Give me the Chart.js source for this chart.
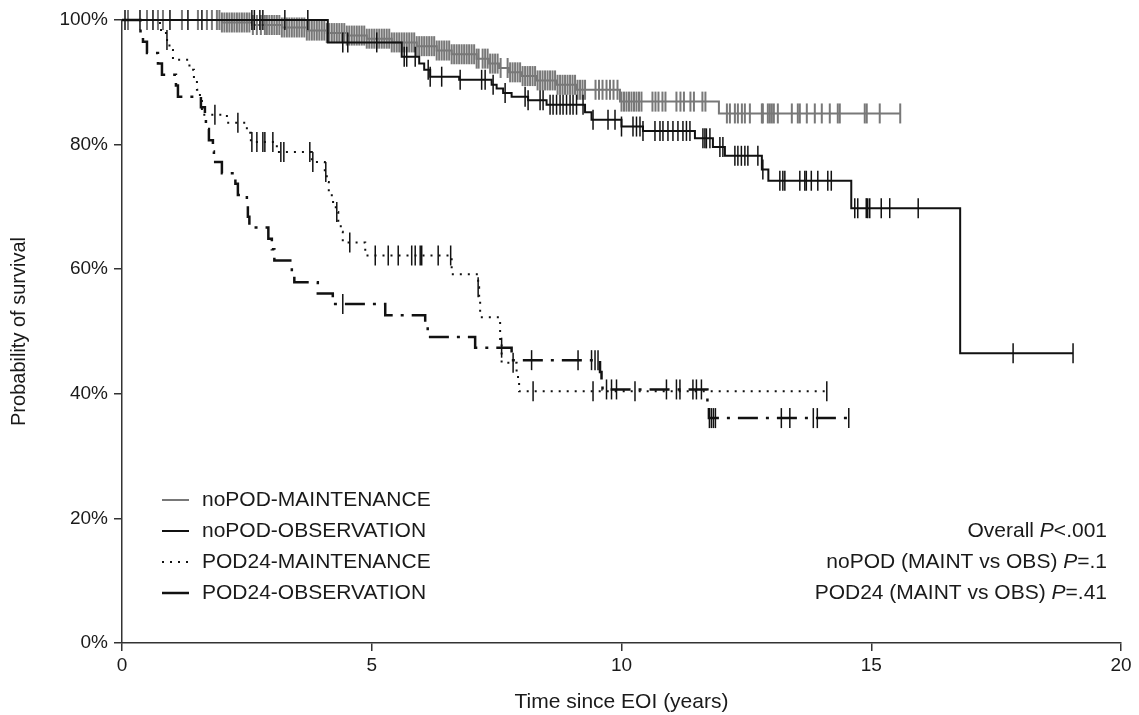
<!DOCTYPE html>
<html>
<head>
<meta charset="utf-8">
<script src="https://cdn.jsdelivr.net/npm/chart.js@4.4.0/dist/chart.umd.min.js"></script>
<style>
  html, body { margin: 0; padding: 0; background: #fff; }
</style>
</head>
<body>
<canvas id="km" width="1139" height="715"></canvas>
<script>
// Kaplan-Meier curves: event times (years) and survival (%) after each step
const noPodMaintT = [0, 2.0, 2.6, 3.2, 3.7, 4.1, 4.5, 4.9, 5.4, 5.9, 6.3, 6.6, 7.1, 7.35, 7.55, 7.75, 8.0, 8.3, 8.7, 9.1, 9.97, 11.95, 15.58];
const noPodMaintS = [100, 99.6, 99.2, 98.8, 98.3, 97.9, 97.5, 97.0, 96.4, 95.8, 95.1, 94.5, 93.8, 93.0, 92.3, 91.6, 91.0, 90.3, 89.6, 88.8, 86.9, 85.0, 85.0];

const noPodObsT = [0, 4.12, 5.6, 5.95, 6.05, 6.17, 6.75, 7.40, 7.50, 7.63, 7.80, 8.13, 8.50, 9.27, 9.40, 10.0, 10.43, 11.47, 11.83, 12.07, 12.81, 12.94, 14.6, 16.78, 19.04];
const noPodObsS = [100, 96.4, 94.1, 93.0, 92.0, 90.9, 90.4, 89.6, 89.0, 88.3, 87.7, 87.1, 86.4, 85.2, 84.0, 82.9, 82.2, 81.0, 79.6, 78.2, 76.0, 74.2, 69.8, 46.5, 46.5];

const pod24MaintT = [0, 0.76, 0.88, 0.95, 1.02, 1.35, 1.44, 1.5, 1.56, 1.6, 2.1, 2.5, 2.58, 3.1, 3.8, 4.06, 4.1, 4.14, 4.2, 4.28, 4.33, 4.38, 4.42, 4.87, 6.6, 7.13, 7.15, 7.17, 7.57, 7.6, 7.9, 7.95, 14.11];
const pod24MaintS = [100, 98.4, 96.8, 95.2, 93.6, 92.0, 90.4, 88.8, 87.2, 84.8, 83.5, 81.9, 80.4, 78.8, 77.2, 75.6, 74.0, 72.4, 70.8, 69.2, 67.6, 66.0, 64.3, 62.2, 59.2, 57.1, 55.0, 52.3, 48.5, 45.0, 42.7, 40.4, 40.4];

const pod24ObsT = [0, 0.37, 0.42, 0.5, 0.72, 0.8, 1.08, 1.12, 1.58, 1.66, 1.68, 1.74, 1.82, 1.84, 2.0, 2.27, 2.32, 2.5, 2.52, 2.55, 2.93, 3.0, 3.05, 3.4, 3.45, 3.92, 4.22, 5.27, 6.07, 6.12, 7.07, 7.8, 9.57, 9.6, 9.62, 11.72, 11.75, 14.55];
const pod24ObsS = [100, 98.2, 96.5, 94.7, 93.0, 91.2, 89.5, 87.7, 86.0, 84.2, 82.5, 80.7, 78.9, 77.2, 75.4, 73.7, 71.9, 70.2, 68.4, 66.7, 64.9, 63.2, 61.4, 59.6, 57.9, 56.1, 54.4, 52.6, 50.9, 49.1, 47.4, 45.4, 43.5, 41.7, 40.7, 38.4, 36.1, 36.1];

// censoring times (tick marks)
const noPodMaintCens = [
  0.12, 0.5, 0.72, 0.82, 1.2, 1.52, 1.7, 1.8,
  1.9, 1.95, 2.0, 2.05, 2.1, 2.15, 2.2, 2.25, 2.3, 2.35, 2.4, 2.45, 2.5, 2.55,
  2.62, 2.7, 2.78, 2.86, 2.9, 2.95, 3.0, 3.05, 3.1, 3.15, 3.2, 3.25, 3.3, 3.35,
  3.4, 3.45, 3.5, 3.55, 3.6, 3.65, 3.7, 3.75, 3.8, 3.85, 3.9, 3.95, 4.0, 4.05,
  4.1, 4.15, 4.2, 4.25, 4.3, 4.35, 4.4, 4.45, 4.5, 4.55, 4.6, 4.65, 4.7, 4.75,
  4.8, 4.85, 4.9, 4.95, 5.0, 5.05, 5.1, 5.15, 5.2, 5.25, 5.3, 5.35, 5.4, 5.45,
  5.5, 5.55, 5.6, 5.65, 5.7, 5.75, 5.8, 5.85, 5.9, 5.95, 6.0, 6.05, 6.1, 6.15,
  6.2, 6.25, 6.3, 6.35, 6.4, 6.45, 6.5, 6.55, 6.6, 6.65, 6.7, 6.75, 6.8, 6.85,
  6.9, 6.95, 7.0, 7.05, 7.1, 7.14, 7.22, 7.27, 7.32, 7.37, 7.42, 7.47, 7.52, 7.58,
  7.72, 7.77, 7.82, 7.87, 7.92, 7.97, 8.02, 8.07, 8.12, 8.17, 8.22, 8.27, 8.32,
  8.37, 8.42, 8.47, 8.52, 8.57, 8.62, 8.67, 8.72, 8.77, 8.82, 8.87, 8.92, 8.97,
  9.02, 9.07, 9.12, 9.17, 9.22, 9.27,
  9.48, 9.55, 9.62, 9.7, 9.77, 9.84, 9.92,
  10.0, 10.05, 10.1, 10.15, 10.2, 10.25, 10.3, 10.35, 10.4,
  10.62, 10.68, 10.74, 10.82, 10.88, 11.1, 11.18, 11.25, 11.38, 11.45, 11.62, 11.68,
  12.11, 12.17, 12.27, 12.33, 12.41, 12.47, 12.57, 12.81, 12.83, 12.93, 12.97, 13.01,
  13.05, 13.13, 13.41, 13.53, 13.57, 13.71, 13.87, 14.01, 14.17, 14.33, 14.37, 14.87,
  14.91, 15.17, 15.58
];
const noPodObsCens = [
  0.06, 0.36, 0.62, 0.96, 1.32, 1.6, 2.6, 2.65, 2.76, 2.82, 3.26, 3.72, 4.42, 4.52, 5.1,
  5.65, 5.7, 5.87, 6.13, 6.17, 6.4, 6.77, 7.2, 7.27, 7.43, 7.67, 8.07, 8.13, 8.37, 8.43,
  8.57, 8.63, 8.7, 8.77, 8.83, 8.9, 8.97, 9.03, 9.1, 9.23, 9.43, 9.73, 9.87, 10.0, 10.23,
  10.3, 10.37, 10.43, 10.67, 10.77, 10.83, 10.93, 11.03, 11.13, 11.23, 11.3, 11.37,
  11.63, 11.67, 11.7, 11.77, 11.97, 12.03, 12.27, 12.33, 12.4, 12.47, 12.53, 12.73,
  12.83, 13.17, 13.23, 13.27, 13.57, 13.67, 13.7, 13.8, 13.93, 14.13, 14.2, 14.67,
  14.73, 14.9, 14.93, 14.97, 15.2, 15.37, 15.94, 17.84, 19.04
];
const pod24MaintCens = [
  0.9, 1.86, 2.32, 2.6, 2.7, 2.82, 2.86, 3.02, 3.18, 3.24, 3.76, 3.82, 4.08, 4.3, 4.56,
  5.07, 5.33, 5.53, 5.8, 5.87, 5.97, 6.0, 6.33, 6.58, 7.13, 7.83, 8.23, 9.43, 10.27, 14.11
];
const pod24ObsCens = [
  4.42, 7.6, 8.2, 9.13, 9.4, 9.47, 9.53, 9.7, 9.8, 9.9, 10.9, 11.1, 11.17, 11.43, 11.5,
  11.6, 11.76, 11.8, 11.84, 11.88, 13.2, 13.37, 13.84, 13.92, 14.55
];

const xTicks = [0, 5, 10, 15, 20];
const yTicks = [0, 20, 40, 60, 80, 100];

const FONT = '"Liberation Sans", Arial, Helvetica, sans-serif';
const GRAY = '#787878';
const BLACK = '#111111';

function stepAt(ts, ss, t) {
  let v = ss[0];
  for (let i = 0; i < ts.length; i++) {
    if (ts[i] <= t) v = ss[i];
  }
  return v;
}

function curve(label, ts, ss, color, width, dash, order) {
  return {
    label: label,
    data: ts.map((t, i) => ({ x: t, y: ss[i] })),
    borderColor: color,
    borderWidth: width,
    borderDash: dash,
    stepped: 'before',   // hold previous value, then drop at the event time
    pointRadius: 0,
    fill: false,
    clip: false,
    order: order
  };
}

function ticks(ts, ss, cens, color, width, order) {
  return {
    label: '',
    data: cens.map(t => ({ x: t, y: stepAt(ts, ss, t) })),
    showLine: false,
    pointStyle: 'line',
    pointRotation: 90,
    pointRadius: 10,
    pointBorderWidth: width,
    pointBorderColor: color,
    borderColor: color,
    clip: false,
    order: order
  };
}

const series = [
  { label: 'noPOD-MAINTENANCE', color: GRAY, width: 2, sample: [] },
  { label: 'noPOD-OBSERVATION', color: BLACK, width: 2, sample: [] },
  { label: 'POD24-MAINTENANCE', color: BLACK, width: 2, sample: [2, 6] },
  { label: 'POD24-OBSERVATION', color: BLACK, width: 2.5, sample: [] }
];

const datasets = [
  curve(series[0].label, noPodMaintT, noPodMaintS, GRAY, 2, [], 8),
  ticks(noPodMaintT, noPodMaintS, noPodMaintCens, GRAY, 2, 7),
  curve(series[1].label, noPodObsT, noPodObsS, BLACK, 2, [], 6),
  ticks(noPodObsT, noPodObsS, noPodObsCens, BLACK, 1.5, 5),
  curve(series[2].label, pod24MaintT, pod24MaintS, BLACK, 2, [2, 6], 4),
  ticks(pod24MaintT, pod24MaintS, pod24MaintCens, BLACK, 1.5, 3),
  curve(series[3].label, pod24ObsT, pod24ObsS, BLACK, 2.5, [20, 8, 3, 8], 2),
  ticks(pod24ObsT, pod24ObsS, pod24ObsCens, BLACK, 1.5, 1)
];

// legend + p-values drawn inside the plot
const notes = [
  [['Overall ', false], ['P', true], ['<.001', false]],
  [['noPOD (MAINT vs OBS) ', false], ['P', true], ['=.1', false]],
  [['POD24 (MAINT vs OBS) ', false], ['P', true], ['=.41', false]]
];

const annotations = {
  id: 'annotations',
  afterDraw(chart) {
    const ctx = chart.ctx;
    ctx.save();
    ctx.textBaseline = 'middle';
    ctx.fillStyle = '#1a1a1a';
    const rowY = [500, 531, 562, 593];
    series.forEach((s, i) => {
      const y = rowY[i];
      ctx.beginPath();
      ctx.strokeStyle = s.color;
      ctx.lineWidth = s.width;
      ctx.setLineDash(s.sample);
      ctx.moveTo(162, y);
      ctx.lineTo(189, y);
      ctx.stroke();
      ctx.setLineDash([]);
      ctx.font = '21px ' + FONT;
      ctx.textAlign = 'left';
      ctx.fillText(s.label, 202, y);
    });
    notes.forEach((parts, i) => {
      const y = rowY[i + 1];
      let total = 0;
      parts.forEach(p => {
        ctx.font = (p[1] ? 'italic ' : '') + '21px ' + FONT;
        total += ctx.measureText(p[0]).width;
      });
      let x = 1107 - total;
      ctx.textAlign = 'left';
      parts.forEach(p => {
        ctx.font = (p[1] ? 'italic ' : '') + '21px ' + FONT;
        ctx.fillText(p[0], x, y);
        x += ctx.measureText(p[0]).width;
      });
    });
    ctx.restore();
  }
};

Chart.defaults.font.family = FONT;
Chart.defaults.color = '#1a1a1a';

new Chart(document.getElementById('km'), {
  type: 'line',
  data: { datasets: datasets },
  options: {
    responsive: false,
    animation: false,
    layout: { padding: { top: 20, right: 18, left: 0, bottom: 0 } },
    plugins: {
      legend: { display: false },
      tooltip: { enabled: false }
    },
    scales: {
      x: {
        type: 'linear',
        min: 0,
        max: 20,
        afterBuildTicks: s => { s.ticks = xTicks.map(v => ({ value: v })); },
        afterFit: s => { s.height = 72; },
        grid: { drawOnChartArea: false, drawTicks: true, tickLength: 8, tickColor: '#333', lineWidth: 1.5 },
        border: { display: true, color: '#333', width: 1.5 },
        ticks: { font: { size: 19 }, padding: 3, color: '#1a1a1a' },
        title: { display: true, text: 'Time since EOI (years)', font: { size: 21 }, color: '#1a1a1a', padding: { top: 0, bottom: 0 } }
      },
      y: {
        type: 'linear',
        min: 0,
        max: 100,
        afterBuildTicks: s => { s.ticks = yTicks.map(v => ({ value: v })); },
        afterFit: s => { s.width = 122; },
        grid: { drawOnChartArea: false, drawTicks: true, tickLength: 8, tickColor: '#333', lineWidth: 1.5 },
        border: { display: true, color: '#333', width: 1.5 },
        ticks: { font: { size: 19 }, padding: 6, color: '#1a1a1a', callback: v => v + '%' },
        title: { display: true, text: 'Probability of survival', font: { size: 20 }, color: '#1a1a1a', padding: { top: 7, bottom: 0 } }
      }
    }
  },
  plugins: [annotations]
});
</script>
</body>
</html>
